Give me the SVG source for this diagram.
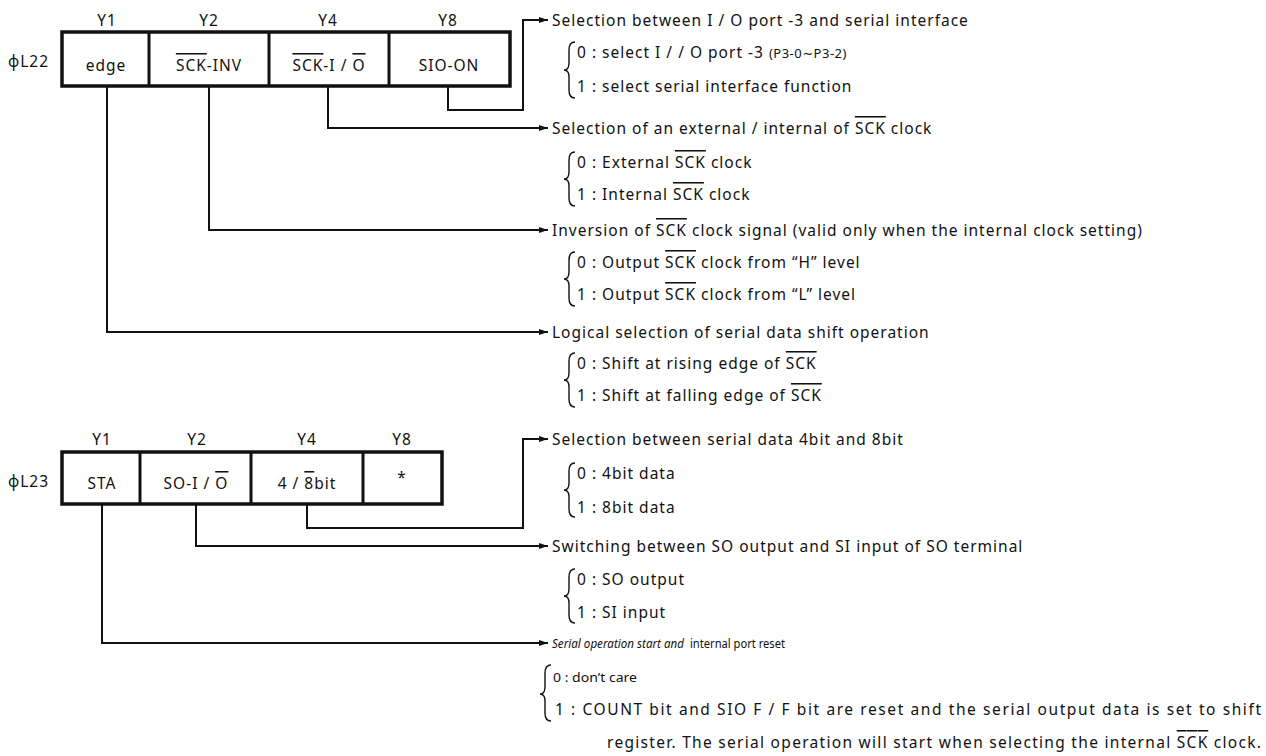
<svg xmlns="http://www.w3.org/2000/svg" width="1266" height="756" viewBox="0 0 1266 756">
<style>
text{font-family:"Noto Sans","Open Sans","DejaVu Sans",sans-serif;font-size:15.5px;letter-spacing:1px;fill:#111;}
.c{text-anchor:middle;}
.box{fill:#fff;stroke:#111;stroke-width:3.5;}
.div{stroke:#111;stroke-width:3;}
.wire{fill:none;stroke:#111;stroke-width:2;}
.brace{fill:none;stroke:#111;stroke-width:1.4;}
.ov{text-decoration:overline;}
.it{font-style:italic;}
.sm{font-size:13px;letter-spacing:0.5px;}
.nar{font-size:12px;letter-spacing:0;}
</style>
<defs>
<marker id="ah" markerWidth="10" markerHeight="8" refX="9" refY="4" orient="auto" markerUnits="userSpaceOnUse">
<path d="M0,1 L9,4 L0,7 Z" fill="#111"/>
</marker>
</defs>
<rect width="1266" height="756" fill="#fff"/>

<g id="reg-L22">
<text x="8" y="67">ϕL22</text>
<text class="c" x="107" y="26">Y1</text>
<text class="c" x="209" y="26">Y2</text>
<text class="c" x="328" y="26">Y4</text>
<text class="c" x="448" y="26">Y8</text>
<rect class="box" x="62" y="32" width="448" height="54"/>
<line class="div" x1="149" y1="32" x2="149" y2="86"/>
<line class="div" x1="269" y1="32" x2="269" y2="86"/>
<line class="div" x1="389" y1="32" x2="389" y2="86"/>
<text class="c" x="106" y="71">edge</text>
<text class="c" x="209" y="71"><tspan class="ov">SCK</tspan>-INV</text>
<text class="c" x="329" y="71"><tspan class="ov">SCK</tspan>-I / <tspan class="ov">O</tspan></text>
<text class="c" x="449" y="71">SIO-ON</text>
</g>

<g id="reg-L23">
<text x="8" y="487">ϕL23</text>
<text class="c" x="102" y="445">Y1</text>
<text class="c" x="197" y="445">Y2</text>
<text class="c" x="307" y="445">Y4</text>
<text class="c" x="402" y="445">Y8</text>
<rect class="box" x="62" y="452" width="380" height="52"/>
<line class="div" x1="140" y1="452" x2="140" y2="504"/>
<line class="div" x1="251" y1="452" x2="251" y2="504"/>
<line class="div" x1="363" y1="452" x2="363" y2="504"/>
<text class="c" x="102" y="489">STA</text>
<text class="c" x="196" y="489">SO-I / <tspan class="ov">O</tspan></text>
<text class="c" x="307" y="489">4 / <tspan class="ov">8</tspan>bit</text>
<text class="c" x="402" y="483">*</text>
</g>

<g id="connectors">
<path class="wire" d="M448 86 V110 H523 V20 H548" marker-end="url(#ah)"/>
<path class="wire" d="M328 86 V128 H548" marker-end="url(#ah)"/>
<path class="wire" d="M209 86 V230 H548" marker-end="url(#ah)"/>
<path class="wire" d="M107 86 V332 H548" marker-end="url(#ah)"/>
<path class="wire" d="M307 504 V528 H523 V439 H548" marker-end="url(#ah)"/>
<path class="wire" d="M196 504 V546 H548" marker-end="url(#ah)"/>
<path class="wire" d="M102 504 V643 H548" marker-end="url(#ah)"/>
</g>

<g id="desc-sio-on">
<text x="552" y="26">Selection between I / O port -3 and serial interface</text>
<path class="brace" d="M575 42 Q569 42 569 50 V63 Q569 70 564 70 Q569 70 569 77 V90 Q569 98 575 98"/>
<text x="577" y="58">0 : select I / / O port -3  <tspan class="sm">(P3-0∼P3-2)</tspan></text>
<text x="577" y="92">1 : select serial interface function</text>
</g>

<g id="desc-sck-io">
<text x="552" y="134">Selection of an external / internal of <tspan class="ov">SCK</tspan> clock</text>
<path class="brace" d="M575 152 Q569 152 569 160 V172 Q569 179 564 179 Q569 179 569 186 V198 Q569 206 575 206"/>
<text x="577" y="168">0 : External <tspan class="ov">SCK</tspan> clock</text>
<text x="577" y="200">1 : Internal <tspan class="ov">SCK</tspan> clock</text>
</g>

<g id="desc-sck-inv">
<text x="552" y="236">Inversion of <tspan class="ov">SCK</tspan> clock signal (valid only when the internal clock setting)</text>
<path class="brace" d="M575 252 Q569 252 569 260 V272 Q569 279 564 279 Q569 279 569 286 V298 Q569 306 575 306"/>
<text x="577" y="268">0 : Output <tspan class="ov">SCK</tspan> clock from “H” level</text>
<text x="577" y="300">1 : Output <tspan class="ov">SCK</tspan> clock from “L” level</text>
</g>

<g id="desc-edge">
<text x="552" y="338">Logical selection of serial data shift operation</text>
<path class="brace" d="M575 353 Q569 353 569 361 V373 Q569 380 564 380 Q569 380 569 387 V399 Q569 407 575 407"/>
<text x="577" y="369">0 : Shift at rising edge of <tspan class="ov">SCK</tspan></text>
<text x="577" y="401">1 : Shift at falling edge of <tspan class="ov">SCK</tspan></text>
</g>

<g id="desc-4-8bit">
<text x="552" y="445">Selection between serial data 4bit and 8bit</text>
<path class="brace" d="M575 463 Q569 463 569 471 V483 Q569 490 564 490 Q569 490 569 497 V509 Q569 517 575 517"/>
<text x="577" y="479">0 : 4bit data</text>
<text x="577" y="513">1 : 8bit data</text>
</g>

<g id="desc-so-io">
<text x="552" y="552">Switching between SO output and SI input of SO terminal</text>
<path class="brace" d="M575 569 Q569 569 569 577 V589 Q569 596 564 596 Q569 596 569 603 V615 Q569 623 575 623"/>
<text x="577" y="585">0 : SO output</text>
<text x="577" y="618">1 : SI input</text>
</g>

<g id="desc-sta">
<text class="it nar" x="552" y="648" textLength="132" lengthAdjust="spacingAndGlyphs">Serial operation start and</text>
<text class="nar" x="690" y="648" textLength="95" lengthAdjust="spacingAndGlyphs">internal port reset</text>
<path class="brace" d="M551 665 Q545 665 545 673 V687 Q545 694 540 694 Q545 694 545 701 V713 Q545 721 551 721"/>
<text class="nar" x="553" y="682" textLength="84" lengthAdjust="spacingAndGlyphs">0 : don’t care</text>
<text x="555" y="715" textLength="707" lengthAdjust="spacing">1 : COUNT bit and SIO F / F bit are reset and the serial output data is set to shift</text>
<text x="607" y="748" textLength="655" lengthAdjust="spacing">register. The serial operation will start when selecting the internal <tspan class="ov">SCK</tspan> clock.</text>
</g>
</svg>
